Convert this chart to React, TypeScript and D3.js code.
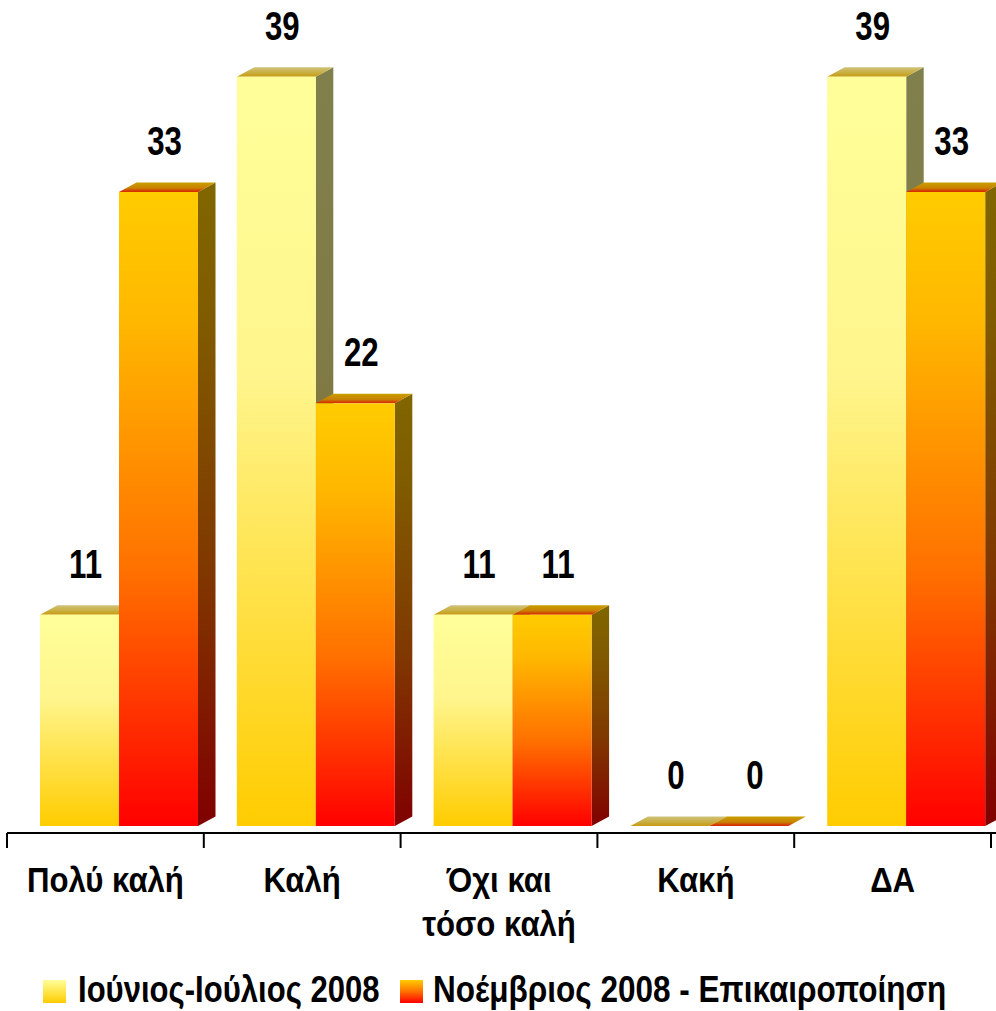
import React from "react";
import * as d3 from "d3";

const categories: string[][] = [["Πολύ καλή"], ["Καλή"], ["Όχι και", "τόσο καλή"], ["Κακή"], ["ΔΑ"]];
const seriesNames = ["Ιούνιος-Ιούλιος 2008", "Νοέμβριος 2008 - Επικαιροποίηση"];
const series1 = [11, 39, 11, 0, 39];
const series2 = [33, 22, 11, 0, 33];

const W = 996;
const H = 1011;
const DX = 17.5;
const DY = 9.5;
const FONT = "'Liberation Sans', Arial, sans-serif";

function NText(props: { x: number; y: number; sx: number; size: number; anchor?: string; children: React.ReactNode }) {
  const { x, y, sx, size, anchor, children } = props;
  return (
    <text
      transform={`translate(${x},${y}) scale(${sx},1)`}
      textAnchor={anchor ?? "start"}
      fontFamily={FONT}
      fontWeight="bold"
      fontSize={size}
      fill="#000"
    >
      {children}
    </text>
  );
}

export default function App() {
  const x = d3.scaleBand<number>().domain(d3.range(categories.length)).range([7, 991]).paddingInner(0).paddingOuter(0);
  const xs = d3.scaleBand<number>().domain([0, 1]).range([33, 33 + 158]).padding(0);
  const y = d3.scaleLinear().domain([0, 39]).range([826, 76.7]);
  const data = [series1, series2];
  const frontGrad = ["g-front-0", "g-front-1"];
  const sideGrad = ["g-side-0", "g-side-1"];
  const topGrad = ["g-top-0", "g-top-1"];

  const bars: JSX.Element[] = [];
  const labels: JSX.Element[] = [];
  categories.forEach((_, ci) => {
    data.forEach((vals, si) => {
      const v = vals[ci];
      const x0 = (x(ci) ?? 0) + (xs(si) ?? 0);
      const w = xs.bandwidth();
      const x1 = x0 + w;
      const yt = y(v);
      const yb = y(0);
      bars.push(
        <g key={`b-${ci}-${si}`}>
          <polygon
            points={`${x1},${yt} ${x1 + DX},${yt - DY} ${x1 + DX},${yb - DY} ${x1},${yb}`}
            fill={`url(#${sideGrad[si]})`}
          />
          <polygon
            points={`${x0},${yt} ${x0 + DX},${yt - DY} ${x1 + DX},${yt - DY} ${x1},${yt}`}
            fill={`url(#${topGrad[si]})`}
          />
          {v > 0 && <rect x={x0} y={yt} width={w} height={yb - yt} fill={`url(#${frontGrad[si]})`} />}
        </g>
      );
      labels.push(
        <NText key={`l-${ci}-${si}`} x={x0 + w / 2 + 6} y={yt - 37} sx={0.78} size={40} anchor="middle">
          {v}
        </NText>
      );
    });
  });

  const ticks = d3.range(categories.length + 1).map((i) => (i < categories.length ? x(i) ?? 0 : 991));

  return (
    <svg width={W} height={H} style={{ position: "absolute", left: 0, top: 0 }}>
      <defs>
        <linearGradient id="g-front-0" x1="0" y1="0" x2="0" y2="1">
          <stop offset="0" stopColor="#FFFF99" />
          <stop offset="0.4" stopColor="#FFF58C" />
          <stop offset="1" stopColor="#FFCC00" />
        </linearGradient>
        <linearGradient id="g-front-1" x1="0" y1="0" x2="0" y2="1">
          <stop offset="0" stopColor="#FFCC00" />
          <stop offset="0.2" stopColor="#FFB800" />
          <stop offset="0.6" stopColor="#FF7000" />
          <stop offset="1" stopColor="#FF0000" />
        </linearGradient>
        <linearGradient id="g-side-0" x1="0" y1="0" x2="0" y2="1">
          <stop offset="0" stopColor="#80804C" />
          <stop offset="0.4" stopColor="#807A46" />
          <stop offset="1" stopColor="#806600" />
        </linearGradient>
        <linearGradient id="g-side-1" x1="0" y1="0" x2="0" y2="1">
          <stop offset="0" stopColor="#806600" />
          <stop offset="0.2" stopColor="#805C00" />
          <stop offset="0.6" stopColor="#803800" />
          <stop offset="1" stopColor="#800000" />
        </linearGradient>
        <linearGradient id="g-top-0" x1="0" y1="0" x2="0" y2="1">
          <stop offset="0" stopColor="#CFC27A" />
          <stop offset="0.6" stopColor="#C9AE3E" />
          <stop offset="1" stopColor="#C99A10" />
        </linearGradient>
        <linearGradient id="g-top-1" x1="0" y1="0" x2="0" y2="1">
          <stop offset="0" stopColor="#C9A000" />
          <stop offset="0.6" stopColor="#C98000" />
          <stop offset="1" stopColor="#D82000" />
        </linearGradient>
        <linearGradient id="g-leg-0" x1="0" y1="0" x2="0" y2="1">
          <stop offset="0" stopColor="#FFFF99" />
          <stop offset="1" stopColor="#FFCC00" />
        </linearGradient>
        <linearGradient id="g-leg-1" x1="0" y1="0" x2="0" y2="1">
          <stop offset="0" stopColor="#FFCC00" />
          <stop offset="0.5" stopColor="#FF7000" />
          <stop offset="1" stopColor="#FF0000" />
        </linearGradient>
      </defs>
      <rect width={W} height={H} fill="#fff" />
      {bars}
      <line x1={7} x2={W} y1={833} y2={833} stroke="#000" strokeWidth={2} />
      {ticks.map((t, i) => (
        <line key={`t-${i}`} x1={t} x2={t} y1={833} y2={848} stroke="#000" strokeWidth={2} />
      ))}
      {categories.map((lines, ci) =>
        lines.map((ln, li) => (
          <NText
            key={`c-${ci}-${li}`}
            x={(x(ci) ?? 0) + x.bandwidth() / 2}
            y={892 + li * 44}
            sx={0.89}
            size={35}
            anchor="middle"
          >
            {ln}
          </NText>
        ))
      )}
      {labels}
      <rect x={43} y={980} width={23} height={23} fill="url(#g-leg-0)" />
      <NText x={78} y={1002} sx={0.84} size={37}>
        {seriesNames[0]}
      </NText>
      <rect x={400} y={980} width={23} height={23} fill="url(#g-leg-1)" />
      <NText x={433} y={1002} sx={0.852} size={37}>
        {seriesNames[1]}
      </NText>
    </svg>
  );
}
